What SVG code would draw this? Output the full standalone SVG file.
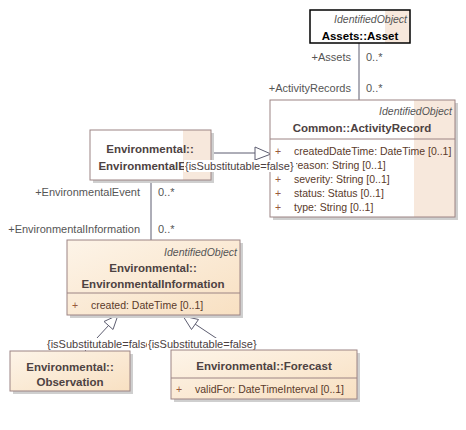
<svg xmlns="http://www.w3.org/2000/svg" width="466" height="430" viewBox="0 0 466 430">
<defs>
<linearGradient id="peach" x1="0" y1="0" x2="1" y2="1">
<stop offset="0" stop-color="#fdf4e8"/>
<stop offset="1" stop-color="#f8e0c2"/>
</linearGradient>
<style>
text{font-family:"Liberation Sans","DejaVu Sans",sans-serif;font-size:10.5px;fill:#4a4040}
.t{font-weight:bold;font-size:11.5px;text-anchor:middle;fill:#4d4242}
.st{font-style:italic;text-anchor:end;fill:#555}
.a{fill:#5a3a2a}
.p{fill:#9a5a3a}
.r{fill:#555;font-size:11px}
.re{fill:#555;text-anchor:end;font-size:11px}
.c{font-size:11px}
.box{stroke:#9c8484;stroke-width:1}
.wb{fill:#ffffff}
.band{fill:#f7e8dc}
.pb{fill:url(#peach)}
.sh{fill:#cfcfcf}
.sep{stroke:#9c8484;stroke-width:1}
.ln{stroke:#5d5d70;stroke-width:1;fill:none}
.tri{stroke:#5d5d70;stroke-width:1;fill:#ffffff}
.lbg{fill:#ffffff}
</style>
<clipPath id="evclip"><rect x="90" y="130" width="121" height="50"/></clipPath>
</defs>

<g id="connectors">
<line class="ln" x1="359" y1="43" x2="359" y2="100"/>
<line class="ln" x1="151" y1="180" x2="151" y2="240"/>
<line class="ln" x1="211" y1="153" x2="255" y2="153"/>
<polygon class="tri" points="255,147 271,154 255,160"/>
<line class="ln" x1="85" y1="351" x2="109" y2="325"/>
<polygon class="tri" points="118,315 113,329.5 104,321.5"/>
<line class="ln" x1="195" y1="324" x2="234" y2="350"/>
<polygon class="tri" points="183,316 198.5,319.5 191.5,329.5"/>
</g>

<g id="asset">
<rect x="310" y="10" width="100" height="33" fill="#ffffff"/>
<rect x="385" y="10" width="25" height="33" class="band"/>
<rect x="310" y="10" width="100" height="33" fill="none" stroke="#000" stroke-width="1.5"/>
<text class="st" x="407" y="23">IdentifiedObject</text>
<text class="t" x="360" y="40" style="fill:#000">Assets::Asset</text>
</g>

<g id="roles">
<text class="re" x="351" y="61">+Assets</text>
<text class="r" x="366" y="61">0..*</text>
<text class="re" x="351" y="92">+ActivityRecords</text>
<text class="r" x="366" y="92">0..*</text>
<text class="re" x="140" y="196">+EnvironmentalEvent</text>
<text class="r" x="158" y="196">0..*</text>
<text class="re" x="140" y="233">+EnvironmentalInformation</text>
<text class="r" x="158" y="233">0..*</text>
</g>

<g id="activityrecord">
<rect class="sh" x="273" y="103" width="185" height="117"/>
<rect class="wb" x="270" y="100" width="185" height="117"/>
<rect class="band" x="414" y="100" width="41" height="117"/>
<rect class="box" x="270" y="100" width="185" height="117" fill="none"/>
<line class="sep" x1="270" y1="139" x2="455" y2="139"/>
<text class="st" x="452" y="115">IdentifiedObject</text>
<text class="t" x="362" y="132">Common::ActivityRecord</text>
<text class="p" x="275" y="155">+</text><text class="a" x="294" y="155">createdDateTime: DateTime [0..1]</text>
<text class="p" x="275" y="169">+</text><text class="a" x="294" y="169">reason: String [0..1]</text>
<text class="p" x="275" y="183">+</text><text class="a" x="294" y="183">severity: String [0..1]</text>
<text class="p" x="275" y="197">+</text><text class="a" x="294" y="197">status: Status [0..1]</text>
<text class="p" x="275" y="211">+</text><text class="a" x="294" y="211">type: String [0..1]</text>
</g>

<g id="environmentalevent">
<rect class="sh" x="93" y="133" width="121" height="50"/>
<rect class="wb" x="90" y="130" width="121" height="50"/>
<rect class="band" x="183" y="130" width="28" height="50"/>
<rect class="box" x="90" y="130" width="121" height="50" fill="none"/>
<g clip-path="url(#evclip)">
<text class="t" x="150" y="153">Environmental::</text>
<text class="t" x="154" y="170">EnvironmentalEvent</text>
</g>
</g>

<g id="label-event">
<rect class="lbg" x="184" y="160" width="112" height="12"/>
<text class="c" x="185" y="170">{isSubstitutable=false}</text>
</g>

<g id="environmentalinformation">
<rect class="sh" x="70" y="243" width="173" height="75"/>
<rect class="pb box" x="67" y="240" width="173" height="75"/>
<line class="sep" x1="67" y1="293" x2="240" y2="293"/>
<text class="st" x="237" y="256">IdentifiedObject</text>
<text class="t" x="153" y="272">Environmental::</text>
<text class="t" x="153" y="288">EnvironmentalInformation</text>
<text class="p" x="72" y="309">+</text><text class="a" x="91" y="309">created: DateTime [0..1]</text>
</g>

<g id="label-observation">
<rect class="lbg" x="46" y="338" width="106" height="12"/>
<text class="c" x="47" y="348">{isSubstitutable=false}</text>
</g>
<g id="label-forecast">
<rect class="lbg" x="147" y="338" width="110" height="12"/>
<text class="c" x="148" y="348">{isSubstitutable=false}</text>
</g>

<g id="observation">
<rect class="sh" x="13" y="354" width="120" height="40"/>
<rect class="pb box" x="10" y="351" width="120" height="40"/>
<text class="t" x="70" y="371">Environmental::</text>
<text class="t" x="70" y="386">Observation</text>
</g>

<g id="forecast">
<rect class="sh" x="174" y="353" width="186" height="49"/>
<rect class="pb box" x="171" y="350" width="186" height="49"/>
<line class="sep" x1="171" y1="378" x2="357" y2="378"/>
<text class="t" x="264" y="370">Environmental::Forecast</text>
<text class="p" x="176" y="393">+</text><text class="a" x="195" y="393">validFor: DateTimeInterval [0..1]</text>
</g>
</svg>
